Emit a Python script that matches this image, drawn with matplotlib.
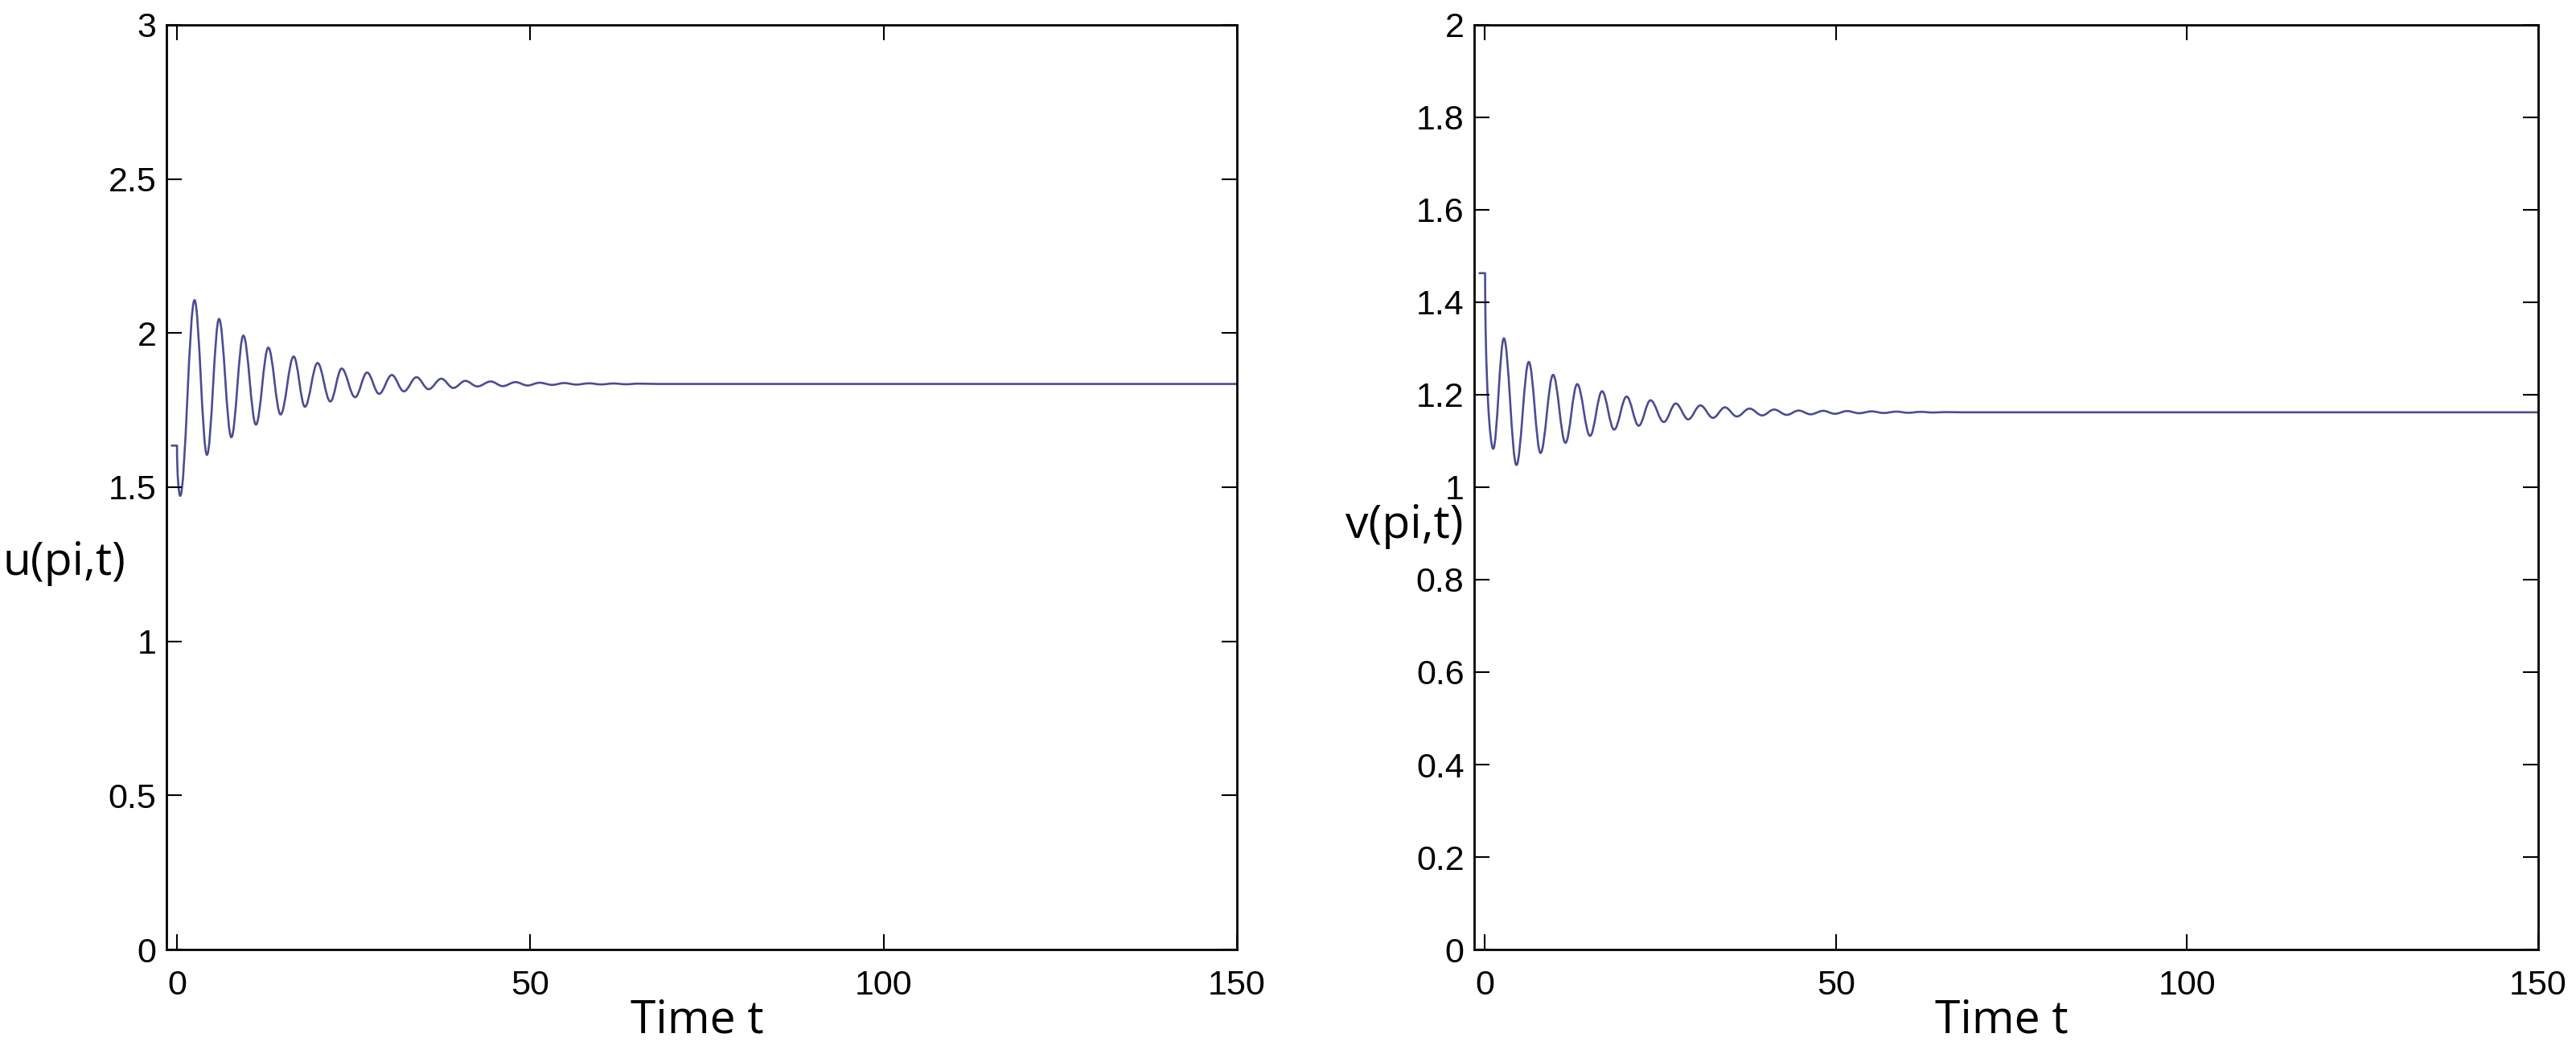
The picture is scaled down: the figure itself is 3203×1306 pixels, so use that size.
import matplotlib
matplotlib.use("Agg")
import matplotlib.pyplot as plt
from matplotlib.path import Path
from matplotlib.patches import PathPatch

# ---------------- data ----------------
# u(pi,t): initial level, extrema of the damped oscillation, steady state
u_start_t = [-0.76, 0.0]
u_start_val = 1.635
u_ext_t = [0.45, 2.48, 4.24, 5.95, 7.69, 9.39, 11.17, 12.92, 14.66, 16.51,
           18.1, 19.89, 21.7, 23.3, 25.2, 26.9, 28.6, 30.4, 32.1, 33.9,
           35.6, 37.4, 39.1, 40.8, 42.5, 44.4, 46.1, 47.9, 49.6, 51.3,
           53.1, 54.8, 56.5, 58.3, 60.0, 61.8, 63.5, 65.3]
u_ext_val = [1.472, 2.107, 1.605, 2.046, 1.662, 1.992, 1.703, 1.953, 1.736, 1.924,
             1.761, 1.903, 1.778, 1.885, 1.792, 1.872, 1.803, 1.864, 1.811, 1.857,
             1.818, 1.852, 1.822, 1.845, 1.827, 1.843, 1.828, 1.841, 1.830, 1.839,
             1.832, 1.838, 1.833, 1.837, 1.8335, 1.8365, 1.834, 1.836]
u_end_t = [68.0, 150.0]
u_end_val = 1.835

# v(pi,t)
v_start_t = [-0.75, 0.05]
v_start_val = 1.463
v_ext_t = [1.2, 2.72, 4.51, 6.27, 7.94, 9.73, 11.49, 13.16, 14.99, 16.7,
           18.42, 20.2, 21.92, 23.6, 25.5, 27.2, 28.97, 30.7, 32.5, 34.2,
           35.9, 37.7, 39.5, 41.2, 43.0, 44.7, 46.4, 48.2, 49.85, 51.6,
           53.3, 55.1, 56.8, 58.6, 60.3, 62.1, 63.8, 65.6]
v_ext_val = [1.083, 1.322, 1.048, 1.271, 1.074, 1.243, 1.096, 1.223, 1.111, 1.2075,
             1.1246, 1.196, 1.133, 1.188, 1.141, 1.181, 1.1467, 1.177, 1.150, 1.1727,
             1.153, 1.170, 1.1553, 1.168, 1.1565, 1.1658, 1.1577, 1.1652, 1.1588, 1.1647,
             1.160, 1.164, 1.1605, 1.1635, 1.161, 1.163, 1.1615, 1.1625]
v_end_t = [68.0, 150.0]
v_end_val = 1.162

x_ticks = [0, 50, 100, 150]
u_ticks = [0, 0.5, 1, 1.5, 2, 2.5, 3]
u_ticklabels = ["0", "0.5", "1", "1.5", "2", "2.5", "3"]
v_ticks = [0, 0.2, 0.4, 0.6, 0.8, 1.0, 1.2, 1.4, 1.6, 1.8, 2.0]
v_ticklabels = ["0", "0.2", "0.4", "0.6", "0.8", "1", "1.2", "1.4", "1.6", "1.8", "2"]

LINE_COLOR = "#4c4c94"
K = 0.3634  # cubic-Bezier handle fraction for a smooth half-wave between extrema


def curve_path(start_t, start_val, ext_t, ext_val, end_t, end_val):
    verts = [(start_t[0], start_val), (start_t[1], start_val)]
    codes = [Path.MOVETO, Path.LINETO]
    # steep initial jump into the first extremum
    t0, y0 = start_t[1], start_val
    t1, y1 = ext_t[0], ext_val[0]
    verts += [(t0, y0 + 0.6 * (y1 - y0)), (t1 - 0.4 * (t1 - t0), y1), (t1, y1)]
    codes += [Path.CURVE4] * 3
    pts_t = list(ext_t) + [end_t[0]]
    pts_v = list(ext_val) + [end_val]
    for i in range(len(pts_t) - 1):
        ta, ya, tb, yb = pts_t[i], pts_v[i], pts_t[i + 1], pts_v[i + 1]
        dt = tb - ta
        verts += [(ta + K * dt, ya), (tb - K * dt, yb), (tb, yb)]
        codes += [Path.CURVE4] * 3
    verts.append((end_t[1], end_val))
    codes.append(Path.LINETO)
    return Path(verts, codes)


TICK_FONT = ["Liberation Sans", "DejaVu Sans"]
LABEL_FONT = ["Open Sans", "DejaVu Sans"]

fig = plt.figure(figsize=(32.03, 13.06), dpi=100)
fig.patch.set_facecolor("white")

ax1 = fig.add_axes([0.0646, 0.0957, 0.4156, 0.8806])
ax2 = fig.add_axes([0.5723, 0.0957, 0.4130, 0.8806])

specs = [
    (ax1, curve_path(u_start_t, u_start_val, u_ext_t, u_ext_val, u_end_t, u_end_val),
     (0, 3), u_ticks, u_ticklabels, "u(pi,t)", (-0.0376, 0.418)),
    (ax2, curve_path(v_start_t, v_start_val, v_ext_t, v_ext_val, v_end_t, v_end_val),
     (0, 2), v_ticks, v_ticklabels, "v(pi,t)", (-0.010, 0.458)),
]

for ax, path, ylim, yt, ytl, ylab, ylab_pos in specs:
    ax.add_patch(PathPatch(path, fill=False, edgecolor=LINE_COLOR, lw=1.9,
                           transform=ax.transData, capstyle="round", joinstyle="round"))
    ax.set_xlim(-1.5, 150)
    ax.set_ylim(*ylim)
    ax.set_xticks(x_ticks)
    ax.set_xticklabels([str(v) for v in x_ticks])
    ax.set_yticks(yt)
    ax.set_yticklabels(ytl)
    ax.tick_params(direction="in", top=True, right=True, length=14, width=1.5,
                   labelsize=31, color="black")
    ax.tick_params(axis="x", pad=18)
    ax.tick_params(axis="y", pad=9)
    for lbl in ax.get_xticklabels() + ax.get_yticklabels():
        lbl.set_family(TICK_FONT)
    for s in ax.spines.values():
        s.set_linewidth(2.0)
        s.set_color("black")
    ax.set_xlabel("Time t", fontsize=41, family=LABEL_FONT)
    ax.xaxis.set_label_coords(0.496, -0.0896)
    ax.xaxis.label.set_verticalalignment("baseline")
    ax.set_ylabel(ylab, fontsize=41, family=LABEL_FONT, rotation=0,
                  ha="right", va="center")
    ax.yaxis.set_label_coords(*ylab_pos)

fig.savefig("out.png", dpi=100, facecolor="white")
